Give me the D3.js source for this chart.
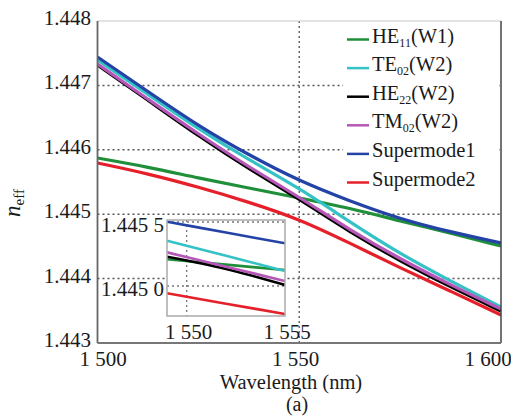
<!DOCTYPE html>
<html>
<head>
<meta charset="utf-8">
<script src="https://cdn.jsdelivr.net/npm/d3@7/dist/d3.min.js"></script>
<style>
  html, body { margin: 0; padding: 0; background: #fff; }
  svg { display: block; }
</style>
</head>
<body>
<svg id="chart" width="511" height="419" font-family="Liberation Serif, Times New Roman, serif"></svg>
<script>
// ---- data ----
const wavelengths = [1500, 1512.5, 1525, 1537.5, 1550, 1562.5, 1575, 1587.5, 1600];
const he11   = [1.445873, 1.445733, 1.445562, 1.445407, 1.445252, 1.445096, 1.444894, 1.444708, 1.444506];
const te02   = [1.447394, 1.446860, 1.446323, 1.445842, 1.445407, 1.444879, 1.444382, 1.443963, 1.443559];
const he22   = [1.447317, 1.446770, 1.446214, 1.445702, 1.445236, 1.444724, 1.444273, 1.443870, 1.443497];
const tm02   = [1.447332, 1.446785, 1.446245, 1.445733, 1.445267, 1.444755, 1.444304, 1.443901, 1.443528];
const super1 = [1.447441, 1.446905, 1.446370, 1.445919, 1.445516, 1.445205, 1.444925, 1.444724, 1.444553];
const super2 = [1.445795, 1.445630, 1.445422, 1.445189, 1.444925, 1.444553, 1.444165, 1.443807, 1.443435];

const xTicks = [1500, 1550, 1600];
const xTickLabels = ["1 500", "1 550", "1 600"];
const yTicks = [1.443, 1.444, 1.445, 1.446, 1.447, 1.448];
const yTickLabels = ["1.443", "1.444", "1.445", "1.446", "1.447", "1.448"];

// inset (zoom around 1 550 nm)
const insetWl     = [1549, 1552, 1555];
const insetHe11   = [1.445209, 1.445167, 1.445125];
const insetTe02   = [1.445354, 1.445236, 1.445117];
const insetHe22   = [1.445229, 1.445133, 1.445008];
const insetTm02   = [1.445263, 1.445151, 1.445039];
const insetSuper1 = [1.445502, 1.445418, 1.445334];
const insetSuper2 = [1.444943, 1.444862, 1.444781];
const insetXTicks = [1550, 1555];
const insetXTickLabels = ["1 550", "1 555"];
const insetYTicks = [1.4450, 1.4455];
const insetYTickLabels = ["1.445 0", "1.445 5"];

const seriesNames = ["HE|11|(W1)", "TE|02|(W2)", "HE|22|(W2)", "TM|02|(W2)", "Supermode1", "Supermode2"];
const seriesColors = ["#1f8f3a", "#35c2c6", "#000000", "#b657b8", "#2443a6", "#e5202a"];
const mainSeries = [he11, te02, he22, tm02, super1, super2];
const insetSeries = [insetHe11, insetTe02, insetHe22, insetTm02, insetSuper1, insetSuper2];
const drawOrder = [0, 5, 1, 2, 3, 4];

// ---- layout ----
const svg = d3.select("#chart");
const FONT = "Liberation Serif, Times New Roman, serif";
const L = 97.5, R = 501, T = 21, B = 343;
const x = d3.scaleLinear().domain([1500, 1600]).range([L, R]);
const y = d3.scaleLinear().domain([1.443, 1.448]).range([B, T]);
const xLab = d3.scaleLinear().domain([1500, 1600]).range([103, 488]);
const txtColor = "#1a1a1a";

svg.append("defs").append("clipPath").attr("id", "clipMain")
  .append("rect").attr("x", L).attr("y", T).attr("width", R - L).attr("height", B - T);

const grid = svg.append("g");
grid.selectAll("line.hg").data([1.444, 1.445, 1.446, 1.447]).join("line")
  .attr("x1", L).attr("x2", R).attr("y1", d => y(d)).attr("y2", d => y(d))
  .attr("stroke", "#555").attr("stroke-width", 1.5).attr("stroke-dasharray", "2,3");
grid.append("line").attr("x1", x(1550)).attr("x2", x(1550)).attr("y1", T).attr("y2", B)
  .attr("stroke", "#666").attr("stroke-width", 1.5).attr("stroke-dasharray", "2,3");

// legend background (covers grid)
const legend = svg.append("g");
legend.append("rect").attr("x", 343).attr("y", 23).attr("width", 156).attr("height", 173).attr("fill", "#fff");

// curves
const line = d3.line().x((d, i) => x(wavelengths[i])).y(d => y(d)).curve(d3.curveBasis);
const curves = svg.append("g").attr("clip-path", "url(#clipMain)");
drawOrder.forEach(k => {
  curves.append("path").attr("d", line(mainSeries[k])).attr("fill", "none")
    .attr("stroke", seriesColors[k]).attr("stroke-width", 3.2).attr("stroke-linejoin", "round");
});

// frame
svg.append("line").attr("x1", L).attr("x2", R).attr("y1", T).attr("y2", T).attr("stroke", "#c8c8c8").attr("stroke-width", 1.2);
svg.append("line").attr("x1", R).attr("x2", R).attr("y1", T).attr("y2", B).attr("stroke", "#444").attr("stroke-width", 1.5);
svg.append("line").attr("x1", L).attr("x2", R).attr("y1", B).attr("y2", B).attr("stroke", "#777").attr("stroke-width", 1.8);
svg.append("line").attr("x1", L).attr("x2", L).attr("y1", T).attr("y2", B).attr("stroke", "#666").attr("stroke-width", 1.8);

// y tick labels
svg.append("g").selectAll("text").data(yTicks).join("text")
  .attr("x", 91).attr("y", d => y(d) + 4).attr("text-anchor", "end").attr("fill", txtColor)
  .attr("font-size", 21).text((d, i) => yTickLabels[i]);
// x tick labels
svg.append("g").selectAll("text").data(xTicks).join("text")
  .attr("x", d => xLab(d)).attr("y", 366).attr("text-anchor", "middle").attr("fill", txtColor)
  .attr("font-size", 21).text((d, i) => xTickLabels[i]);

// axis titles
svg.append("text").attr("x", 291).attr("y", 388.5).attr("text-anchor", "middle").attr("fill", txtColor)
  .attr("font-size", 20.5).text("Wavelength (nm)");
svg.append("text").attr("x", 297).attr("y", 411).attr("text-anchor", "middle").attr("fill", txtColor)
  .attr("font-size", 20).text("(a)");
const yt = svg.append("text").attr("transform", "translate(20,203) rotate(-90)")
  .attr("text-anchor", "middle").attr("fill", txtColor);
yt.append("tspan").attr("font-size", 23).attr("font-style", "italic").text("n");
yt.append("tspan").attr("font-size", 15).attr("dy", 4).text("eff");

// legend entries
seriesNames.forEach((name, i) => {
  const by = 42.5 + i * 28.6;
  legend.append("line").attr("x1", 347).attr("x2", 369).attr("y1", by - 3).attr("y2", by - 3)
    .attr("stroke", seriesColors[i]).attr("stroke-width", 2.5);
  const t = legend.append("text").attr("x", 372).attr("y", by).attr("font-size", 20.5).attr("fill", txtColor);
  const parts = name.split("|");
  if (parts.length === 3) {
    t.append("tspan").text(parts[0]);
    t.append("tspan").attr("font-size", 12).attr("dy", 4).text(parts[1]);
    t.append("tspan").attr("dy", -4).text(parts[2]);
  } else {
    t.text(name);
  }
});

// ---- inset ----
const iL = 167, iR = 285, iT = 220, iB = 316;
const ix = d3.scaleLinear().domain([1549, 1555]).range([iL, iR]);
const iy = d3.scaleLinear().domain([1.4450, 1.4455]).range([286, 222]);
const inset = svg.append("g");
svg.select("defs").append("clipPath").attr("id", "clipInset")
  .append("rect").attr("x", iL).attr("y", iT).attr("width", iR - iL).attr("height", iB - iT);
inset.append("rect").attr("x", iL).attr("y", iT).attr("width", iR - iL).attr("height", iB - iT).attr("fill", "#fff");
inset.selectAll("line.ih").data(insetYTicks).join("line")
  .attr("x1", iL).attr("x2", iR).attr("y1", d => iy(d)).attr("y2", d => iy(d))
  .attr("stroke", "#777").attr("stroke-width", 1.3).attr("stroke-dasharray", "2,3");
inset.append("line").attr("x1", ix(1550)).attr("x2", ix(1550)).attr("y1", iT).attr("y2", iB)
  .attr("stroke", "#777").attr("stroke-width", 1.3).attr("stroke-dasharray", "2,3");
const iline = d3.line().x((d, i) => ix(insetWl[i])).y(d => iy(d)).curve(d3.curveMonotoneX);
const ic = inset.append("g").attr("clip-path", "url(#clipInset)");
drawOrder.forEach(k => {
  ic.append("path").attr("d", iline(insetSeries[k])).attr("fill", "none")
    .attr("stroke", seriesColors[k]).attr("stroke-width", 2.6);
});
inset.append("rect").attr("x", iL).attr("y", iT).attr("width", iR - iL).attr("height", iB - iT)
  .attr("fill", "none").attr("stroke", "#aaa").attr("stroke-width", 1.5);
inset.selectAll("text.iy").data(insetYTicks).join("text")
  .attr("x", 164).attr("y", d => iy(d) + 10).attr("text-anchor", "end").attr("fill", txtColor)
  .attr("font-size", 21).text((d, i) => insetYTickLabels[i]);
inset.selectAll("text.ix").data(insetXTicks).join("text")
  .attr("x", d => ix(d) + 2).attr("y", 339).attr("text-anchor", "middle").attr("fill", txtColor)
  .attr("font-size", 21).text((d, i) => insetXTickLabels[i]);

svg.selectAll("text").attr("font-family", FONT);
</script>
</body>
</html>
